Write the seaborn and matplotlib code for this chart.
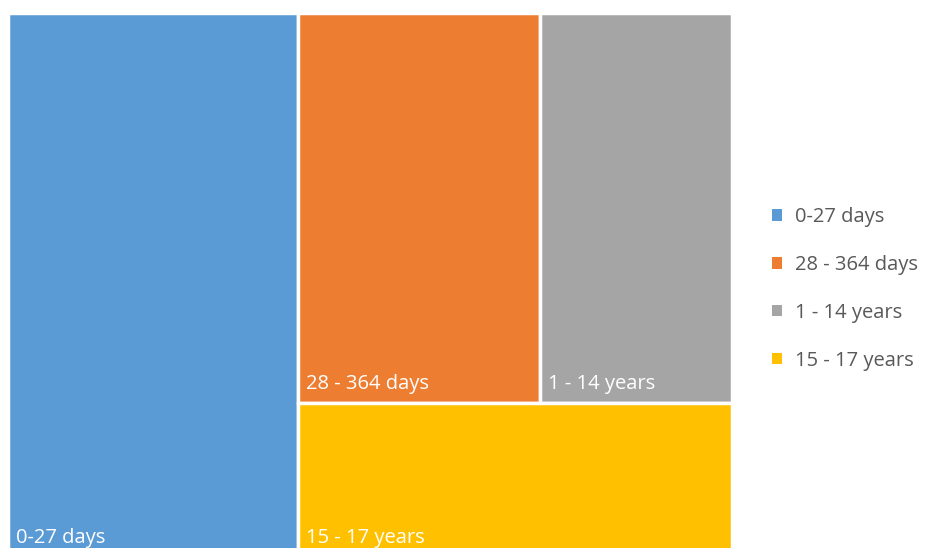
import seaborn as sns
import matplotlib.pyplot as plt
from matplotlib.patches import Patch

# age groups and their share (read from tile areas)
groups = ['0-27 days', '28 - 364 days', '1 - 14 years', '15 - 17 years']
values = [40, 24, 19, 17]
colors = ['#5B9BD5', '#ED7D31', '#A5A5A5', '#FFC000']

sns.set_theme(style="white")
plt.rcParams['font.family'] = ['Open Sans', 'DejaVu Sans']

############################################################### Layout

def treemap_layout(vals, W=1.0, H=1.0):
    # first group takes a full-height column, next two share a top row,
    # the last one fills the bottom strip of the remaining area
    total = sum(vals)
    w0 = W * vals[0] / total
    rects = [(0, 0, w0, H)]
    rest_w = W - w0
    rest = sum(vals[1:])
    top_h = H * (vals[1] + vals[2]) / rest
    w1 = rest_w * vals[1] / (vals[1] + vals[2])
    rects.append((w0, H - top_h, w1, top_h))
    rects.append((w0 + w1, H - top_h, rest_w - w1, top_h))
    rects.append((w0, 0, rest_w, H - top_h))
    return rects

rects = treemap_layout(values)

############################################################### Plot

fig = plt.figure(figsize=(9.25, 5.48), dpi=100)
ax = fig.add_axes([8 / 925, -9 / 548, 724 / 925, 544 / 548])

for (x, y, w, h), c, name in zip(rects, colors, groups):
    ax.bar(x, h, width=w, bottom=y, align='edge', color=c,
           edgecolor='white', linewidth=2.5)
    ax.text(x + 0.011, y + 0.016, name, color='white', fontsize=14.5,
            ha='left', va='bottom')

ax.set_xlim(0, 1)
ax.set_ylim(0, 1)
ax.axis('off')

handles = [Patch(facecolor=c, edgecolor='none') for c in colors]
fig.legend(handles, groups, loc='center left', bbox_to_anchor=(754 / 925, 1 - 289 / 548),
           frameon=False, fontsize=14.5, labelcolor='#595959',
           handlelength=0.5, handleheight=0.5, handletextpad=0.65, labelspacing=1.38)

plt.savefig('out.png', dpi=100)
